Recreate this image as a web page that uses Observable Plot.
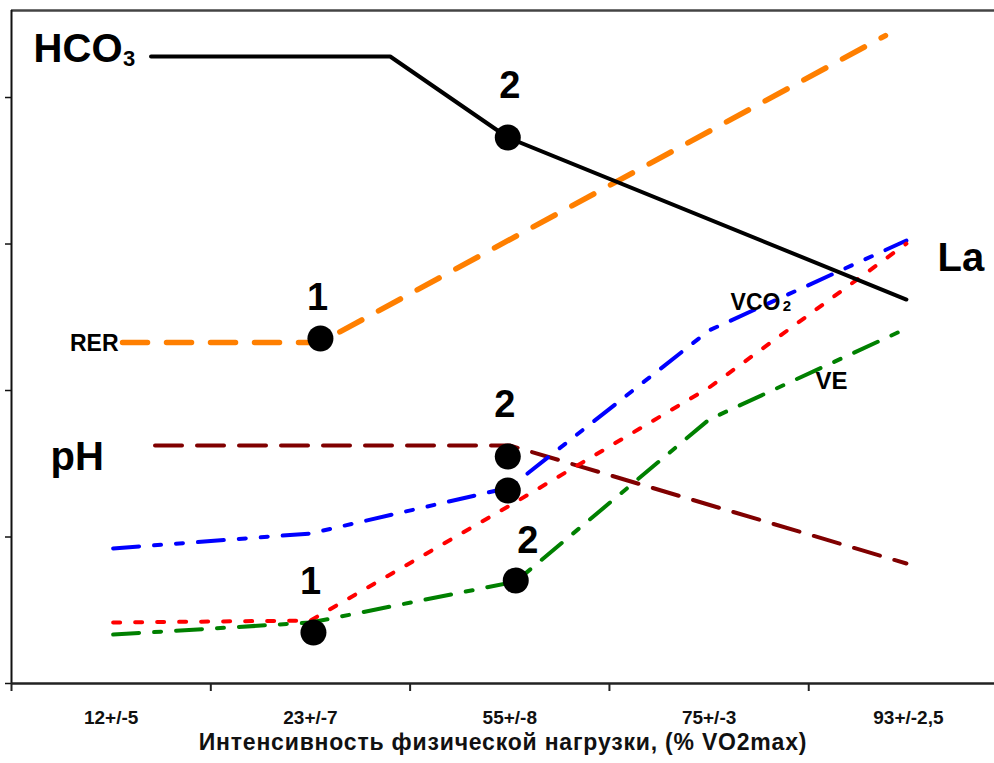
<!DOCTYPE html>
<html><head><meta charset="utf-8">
<script src="https://cdn.jsdelivr.net/npm/d3@7"></script>
<script src="https://cdn.jsdelivr.net/npm/@observablehq/plot@0.6"></script>
<style>
body{margin:0;background:#fff;}
#chart svg{display:block;}
.xtitle text{letter-spacing:0.8px;}
</style>
</head><body><div id="chart"></div>
<script>
// ---- categories / tick labels ----
const categories = ["12+/-5", "23+/-7", "55+/-8", "75+/-3", "93+/-2,5"];
const xTitle = "Интенсивность физической нагрузки, (% VO2max)";
const yTicks = [0, 1, 2, 3, 4];

// ---- series (x in category units, 0 = first category centre) ----
const hco3X = [0.2, 1.4, 1.99, 3.99];
const hco3Y = [4.28, 4.28, 3.727, 2.621];
const rerX = [0.057, 1.05, 3.885];
const rerY = [2.328, 2.328, 4.423];
const phX = [0.22, 2.0, 3.99];
const phY = [1.625, 1.625, 0.819];
const vco2X = [0.01, 1, 2, 3, 3.99];
const vco2Y = [0.922, 1.024, 1.338, 2.41, 3.024];
const laX = [0.01, 1, 2, 3, 3.99];
const laY = [0.416, 0.43, 1.215, 2.02, 3.003];
const veX = [0.01, 1, 2.03, 3, 3.99];
const veY = [0.334, 0.416, 0.696, 1.802, 2.423];

// ---- threshold points ----
const pointX = [1.05, 1.99, 1.99, 1.99, 2.03, 1.015];
const pointY = [2.355, 3.727, 1.549, 1.317, 0.703, 0.348];
const numLabels = ["1", "2", "2", "2", "1"];
const numX = [1.035, 2.0, 1.975, 2.09, 1.0];
const numY = [2.635, 4.08, 1.905, 0.975, 0.696];

// ---- series labels ----
const nameText = ["HCO", "pH", "La", "VCO", "VE"];
const nameX = [-0.389, -0.304, 4.146, 3.108, 3.534];
const nameY = [4.331, 1.543, 2.901, 2.601, 2.061];
const nameSize = [40, 40, 40, 23, 24];
const rerText = ["RER"];
const rerLabelX = [0.037];
const rerLabelY = [2.321];
const subText = ["3", "2"];
const subX = [0.06, 3.37];
const subY = [4.265, 2.575];
const subSize = [22, 15];

const toRows = (xs, ys) => xs.map((x, i) => ({x, y: ys[i]}));
const FONT = "'Liberation Sans', Arial, Helvetica, sans-serif";

const chart = Plot.plot({
  width: 994,
  height: 763,
  marginLeft: 11,
  marginRight: 0,
  marginTop: 10,
  marginBottom: 80,
  style: {fontFamily: FONT, background: "#fff", overflow: "visible"},
  x: {type: "linear", domain: [-0.5, 4.432]},
  y: {type: "linear", domain: [0, 4.594]},
  marks: [
    // frame / axes
    Plot.ruleY([4.594], {stroke: "#444", strokeWidth: 2.5}),
    Plot.ruleX([-0.5], {stroke: "#111", strokeWidth: 2}),
    Plot.axisY(yTicks, {tickSize: 6, tickFormat: () => "", label: null, stroke: "#111", strokeWidth: 1.5}),
    Plot.axisX([-0.5, 0.5, 1.5, 2.5, 3.5], {tickSize: 8, tickFormat: () => "", label: null, stroke: "#222", strokeWidth: 2}),
    Plot.ruleY([0], {stroke: "#222", strokeWidth: 2.5}),
    Plot.text(categories, {x: (d, i) => i, y: 0, dy: 34, text: d => d, fontSize: 19, fontWeight: "bold", fill: "#111"}),
    Plot.text([xTitle], {frameAnchor: "bottom", dy: 66, text: d => d, fontSize: 23, fontWeight: "bold", fill: "#111", className: "xtitle"}),

    // series
    Plot.line(toRows(phX, phY), {x: "x", y: "y", stroke: "#800000", strokeWidth: 4, strokeDasharray: "27,15"}),
    Plot.line(toRows(vco2X, vco2Y), {x: "x", y: "y", stroke: "#0000ff", strokeWidth: 4, strokeDasharray: "26,15,7,15,7,15"}),
    Plot.line(toRows(laX, laY), {x: "x", y: "y", stroke: "#ff0000", strokeWidth: 4, strokeDasharray: "7,15"}),
    Plot.line(toRows(veX, veY), {x: "x", y: "y", stroke: "#008000", strokeWidth: 4, strokeDasharray: "26,15,7,15"}),
    Plot.line(toRows(rerX, rerY), {x: "x", y: "y", stroke: "#ff7f00", strokeWidth: 5.5, strokeDasharray: "25,19"}),
    Plot.line(toRows(hco3X, hco3Y), {x: "x", y: "y", stroke: "#000", strokeWidth: 4}),

    // points
    Plot.dot(toRows(pointX, pointY), {x: "x", y: "y", r: 13, fill: "#000"}),
    Plot.text(numLabels, {x: (d, i) => numX[i], y: (d, i) => numY[i], text: d => d, fontSize: 38, fontWeight: "bold", fill: "#000"}),

    // series names
    Plot.text(nameText, {x: (d, i) => nameX[i], y: (d, i) => nameY[i], text: d => d,
      fontSize: (d, i) => nameSize[i], fontWeight: "bold", fill: "#000", textAnchor: "start"}),
    Plot.text(rerText, {x: (d, i) => rerLabelX[i], y: (d, i) => rerLabelY[i], text: d => d,
      fontSize: 23, fontWeight: "bold", fill: "#000", textAnchor: "end"}),
    Plot.text(subText, {x: (d, i) => subX[i], y: (d, i) => subY[i], text: d => d,
      fontSize: (d, i) => subSize[i], fontWeight: "bold", fill: "#000", textAnchor: "start"})
  ]
});
document.getElementById("chart").appendChild(chart);
</script>
</body></html>
